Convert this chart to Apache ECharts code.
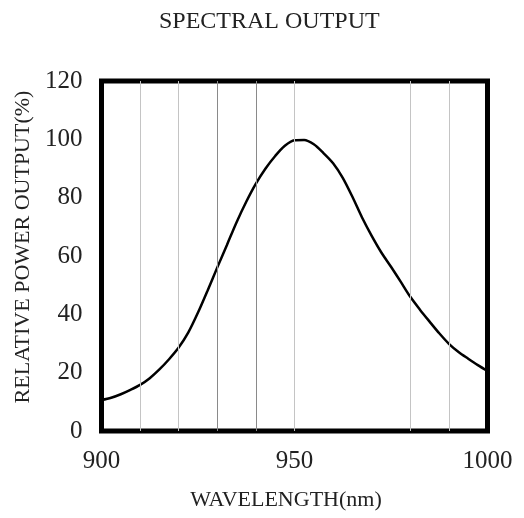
<!DOCTYPE html>
<html>
<head>
<meta charset="utf-8">
<script src="https://cdn.jsdelivr.net/npm/echarts@6/dist/echarts.min.js"></script>
<style>html,body{margin:0;padding:0;background:#fff}#c{width:524px;height:518px}</style>
</head>
<body>
<div id="c"></div>
<script>
var wavelength = [900, 902.5, 905, 907.5, 910, 912.5, 915, 917.5, 920, 922.5, 925, 927.5, 930, 932.5, 935, 937.5, 940, 942.5, 945, 947.5, 950, 952.5, 955, 957.5, 960, 962.5, 965, 967.5, 970, 972.5, 975, 977.5, 980, 982.5, 985, 987.5, 990, 992.5, 995, 997.5, 1000];
var output     = [10.6, 11.4, 12.6, 14.1, 15.8, 18.1, 21.1, 24.6, 28.6, 33.8, 40.6, 48.2, 56.1, 63.8, 71.6, 78.6, 84.8, 90.0, 94.3, 97.8, 99.7, 99.8, 98.3, 95.3, 91.8, 86.8, 80.3, 73.2, 66.9, 61.2, 56.3, 51.2, 46.0, 41.6, 37.5, 33.5, 29.9, 27.1, 24.8, 22.6, 20.6];
var gridLight = [910, 920, 950, 980, 990];
var gridDark = [930, 940];
var xTicks = [900, 950, 1000];
var yTicks = [0, 20, 40, 60, 80, 100, 120];

var FONT = '"Liberation Serif", "DejaVu Serif", serif';
var chart = echarts.init(document.getElementById('c'));
var mlData = gridLight.map(function (v) { return { xAxis: v, lineStyle: { color: '#c4c4c4', width: 1, type: 'solid' } }; })
  .concat(gridDark.map(function (v) { return { xAxis: v, lineStyle: { color: '#8a8a8a', width: 1, type: 'solid' } }; }));

chart.setOption({
  animation: false,
  backgroundColor: '#fff',
  title: {
    text: 'SPECTRAL OUTPUT',
    left: 154, top: 5,
    textStyle: { fontFamily: FONT, fontSize: 24, fontWeight: 'normal', color: '#222' }
  },
  grid: {
    left: 101.5, right: 36.5, top: 81, bottom: 87,
    show: true, borderWidth: 5, borderColor: '#000', backgroundColor: 'transparent'
  },
  xAxis: {
    type: 'value', min: xTicks[0], max: xTicks[xTicks.length - 1], interval: 50,
    name: 'WAVELENGTH(nm)', nameLocation: 'middle', nameGap: 58,
    nameTextStyle: { fontFamily: FONT, fontSize: 22, color: '#222', padding: [0, 17, 0, 0] },
    axisLine: { show: false }, axisTick: { show: false }, splitLine: { show: false },
    axisLabel: { fontFamily: FONT, fontSize: 25, color: '#222', margin: 18, formatter: function (v) { return String(v); } }
  },
  yAxis: {
    type: 'value', min: yTicks[0], max: yTicks[yTicks.length - 1], interval: 20,
    name: 'RELATIVE POWER OUTPUT(%)', nameLocation: 'middle', nameGap: 59, nameRotate: 90,
    nameTextStyle: { fontFamily: FONT, fontSize: 22, color: '#222', padding: [0, 0, 0, 18] },
    axisLine: { show: false }, axisTick: { show: false }, splitLine: { show: false },
    axisLabel: { fontFamily: FONT, fontSize: 25, color: '#222', margin: 19 }
  },
  series: [{
    type: 'line',
    data: wavelength.map(function (w, i) { return [w, output[i]]; }),
    smooth: 0.3, showSymbol: false,
    lineStyle: { color: '#000', width: 2.5 },
    markLine: { silent: true, symbol: ['none', 'none'], label: { show: false }, data: mlData },
    z: 3
  }]
});
</script>
</body>
</html>
